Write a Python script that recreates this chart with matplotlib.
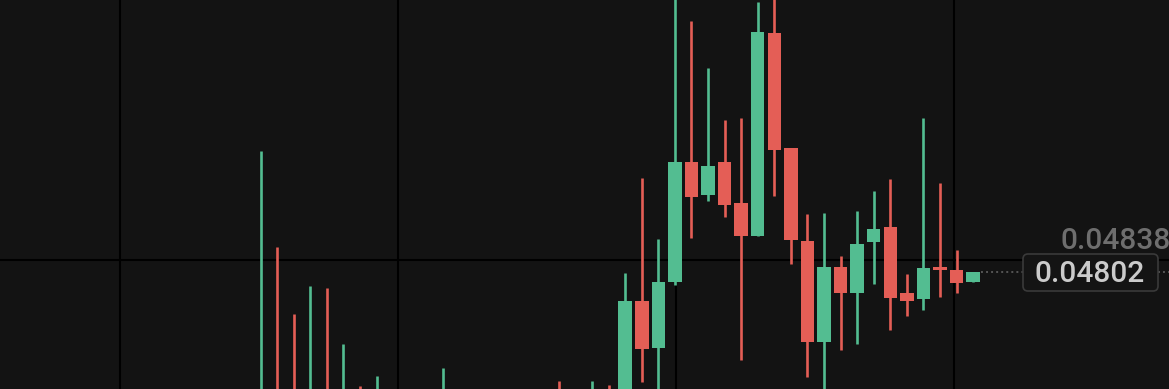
import numpy as np
import matplotlib
matplotlib.use("Agg")
import matplotlib.pyplot as plt
from matplotlib.patches import FancyBboxPatch
from matplotlib.transforms import IdentityTransform

# OHLC (many early candles sit below the visible window)
opens = [0.04580, 0.04620, 0.04610, 0.04570, 0.04600, 0.04560, 0.04600, 0.04580,
         0.04590, 0.04570, 0.04580, 0.04590, 0.04620, 0.04600, 0.04610, 0.04590,
         0.04580, 0.04600, 0.04620, 0.04600, 0.04590, 0.04640, 0.04655, 0.047668,
         0.047101, 0.04790, 0.04934, 0.04894, 0.049333, 0.048841, 0.048452, 0.050884,
         0.049504, 0.048385, 0.047173, 0.04808, 0.047761, 0.048373, 0.04856, 0.047768,
         0.047689, 0.048073, 0.04804, 0.047893]
closes = [0.04620, 0.04590, 0.04580, 0.04600, 0.04570, 0.04590, 0.04580, 0.04610,
          0.04570, 0.04580, 0.04590, 0.04620, 0.04600, 0.04610, 0.04590, 0.04580,
          0.04600, 0.04620, 0.04600, 0.04620, 0.04640, 0.04620, 0.047668, 0.047092,
          0.04790, 0.04934, 0.04892, 0.049292, 0.048824, 0.048448, 0.050893, 0.04948,
          0.04840, 0.047173, 0.04808, 0.047761, 0.048352, 0.048529, 0.047708, 0.047665,
          0.048068, 0.04804, 0.047888, 0.04802]
highs = [0.049474, 0.04832, 0.047509, 0.047852, 0.047821, 0.047149, 0.046648, 0.046768,
         0.04640, 0.04630, 0.04640, 0.046861, 0.04650, 0.04640, 0.04645, 0.04630,
         0.04640, 0.04650, 0.046712, 0.04650, 0.046708, 0.046664, 0.048008, 0.049148,
         0.048412, 0.05150, 0.051028, 0.050461, 0.04984, 0.049861, 0.05126, 0.05160,
         0.049504, 0.04871, 0.048728, 0.048208, 0.048748, 0.048992, 0.049132, 0.047992,
         0.049861, 0.049081, 0.04828, 0.04802]
lows = [0.04560, 0.04570, 0.04560, 0.04550, 0.04560, 0.04540, 0.04560, 0.04560,
        0.04550, 0.04550, 0.04560, 0.04570, 0.04580, 0.04590, 0.04570, 0.04560,
        0.04570, 0.04590, 0.04590, 0.04600, 0.04580, 0.04610, 0.04640, 0.04670,
        0.04650, 0.04786, 0.048421, 0.048868, 0.048673, 0.04696, 0.048452, 0.048928,
        0.048109, 0.04676, 0.04650, 0.04708, 0.047149, 0.047869, 0.04732, 0.047488,
        0.04756, 0.047713, 0.047761, 0.047893]

last_price = "0.04802"
mark_price = "0.04838"
grid_x = [-8.49, 8.29, 25.06, 41.84]
grid_y = [0.04816]

bg = "#131313"
up = "#53bd91"
down = "#e45e56"

fig = plt.figure(figsize=(11.69, 3.89), dpi=100, facecolor=bg)
ax = fig.add_axes([0, 0, 1, 1], facecolor=bg)

o = np.array(opens)
c = np.array(closes)
h = np.array(highs)
l = np.array(lows)
x = np.arange(len(o))
cols = np.where(c >= o, up, down)

ax.vlines(x, l, h, colors=cols, lw=1.9, zorder=2)
bot = np.minimum(o, c)
hgt = np.maximum(np.abs(c - o), 0.00002)
ax.bar(x, hgt, bottom=bot, width=0.815, color=cols, lw=0, zorder=3)

ax.set_xlim(-15.73, 54.82)
ax.set_ylim(0.046612, 0.05128)
ax.set_xticks(grid_x)
ax.set_yticks(grid_y)
ax.grid(True, color="#000000", lw=1.5, zorder=0)
ax.set_axisbelow(True)
ax.tick_params(length=0, labelbottom=False, labelleft=False)
for s in ax.spines.values():
    s.set_visible(False)

# dotted last price line
ax.hlines(c[-1], x[-1] + 0.45, 60, colors="#555555", lw=1.4,
          linestyles=(0, (1, 1.6)), zorder=1)

fig.text(1.002, 1 - 241 / 389, mark_price, ha="right", va="center",
         fontsize=21.5, color="#6e6e6e", family="Roboto", fontweight="medium")

# label box in pixel coordinates
box = FancyBboxPatch((1023, 389 - 291), 135, 37,
                     boxstyle="round,pad=0,rounding_size=5",
                     transform=IdentityTransform(),
                     facecolor="#141414", edgecolor="#3a3a3a", lw=1.2, zorder=5)
fig.patches.append(box)
fig.text(1090 / 1169, 1 - 273.5 / 389, last_price, ha="center", va="center",
         fontsize=21.5, color="#cbcbcb", family="Roboto", fontweight="medium",
         zorder=6)

fig.savefig("out.png", dpi=100, facecolor=bg)
